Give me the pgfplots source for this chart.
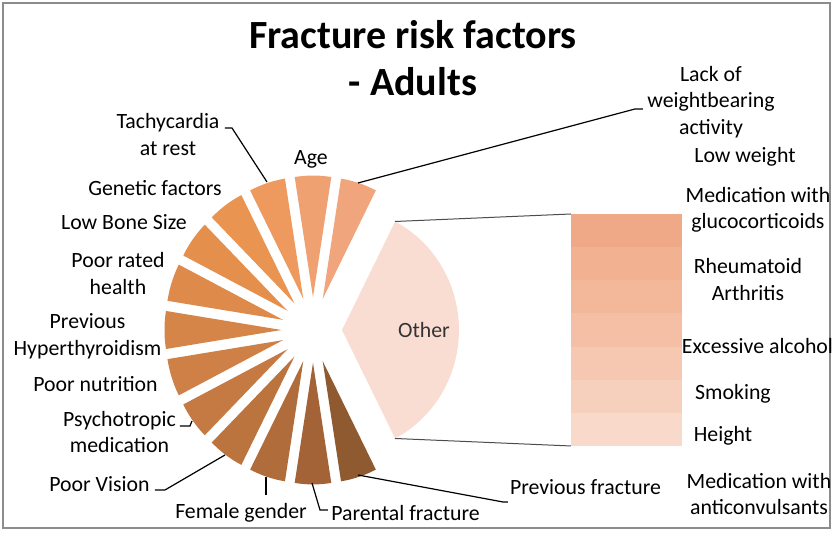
\documentclass[border=0pt]{standalone}
\usepackage{fontspec}
\setmainfont{Carlito}
\usepackage{pgfplots}
\pgfplotsset{compat=1.18}
% slice colours (from "Lack of weightbearing activity" round to "Previous fracture")
\definecolor{s1}{HTML}{F0A57C}
\definecolor{s2}{HTML}{EFA172}
\definecolor{s3}{HTML}{EE9A5E}
\definecolor{s4}{HTML}{EA9451}
\definecolor{s5}{HTML}{E48F4C}
\definecolor{s6}{HTML}{DD8A4A}
\definecolor{s7}{HTML}{D58548}
\definecolor{s8}{HTML}{CE8046}
\definecolor{s9}{HTML}{C67A43}
\definecolor{s10}{HTML}{BC743F}
\definecolor{s11}{HTML}{B06C3B}
\definecolor{s12}{HTML}{A36337}
\definecolor{s13}{HTML}{8F5A30}
\definecolor{otherc}{HTML}{FADDD2}
% bar colours, top to bottom
\definecolor{b1}{HTML}{F0A986}
\definecolor{b2}{HTML}{F2B292}
\definecolor{b3}{HTML}{F3B899}
\definecolor{b4}{HTML}{F4BFA5}
\definecolor{b5}{HTML}{F6C7B1}
\definecolor{b6}{HTML}{F7D0BD}
\definecolor{b7}{HTML}{F9D9CA}
\newcommand{\lab}{\fontsize{21.8}{26.5}\selectfont}
% #1 start angle, #2 end angle, #3 colour, #4 explosion, #5 radius
\newcommand{\pieslice}[5]{%
  \addplot[draw=none, fill=#3, domain=0:41, samples=42, variable=\t]
   ({313 + (#4)*cos(((#1)+(#2))/2) + (#5)*(\t>0.5)*(\t<40.5)*cos((#1)+(\t-1)*((#2)-(#1))/39)},
    {203 + 1.04*((#4)*sin(((#1)+(#2))/2) + (#5)*(\t>0.5)*(\t<40.5)*sin((#1)+(\t-1)*((#2)-(#1))/39))});
}
\begin{document}
\begin{tikzpicture}
\begin{axis}[at={(0,0)}, anchor=south west, scale only axis,
  width=833pt, height=533pt, xmin=0, xmax=833, ymin=0, ymax=533,
  hide axis, clip=false]
\path (axis cs:0,0) rectangle (axis cs:833,533);
\draw[color=black!45, line width=1.3pt] (axis cs:3,5) rectangle (axis cs:830,530);
% pie values: 13 single slices of 1 each, "Other" = 7, total 20
\def\total{20}
\def\otherval{7}
\pgfmathsetmacro\startang{\otherval*360/\total/2}
\foreach \c/\v in {s1/1,s2/1,s3/1,s4/1,s5/1,s6/1,s7/1,s8/1,s9/1,s10/1,s11/1,s12/1,s13/1}{
  \pgfmathsetmacro\endang{\startang+\v*360/\total}
  \edef\tmp{\noexpand\pieslice{\startang}{\endang}{\c}{31.5}{117}}
  \tmp
  \global\let\startang\endang
}
\pgfmathsetmacro\oa{\otherval*360/\total/2}
\edef\tmp{\noexpand\pieslice{-\oa}{\oa}{otherc}{29}{117}}
\tmp
% connector lines to the bar
\addplot[black!70, line width=1pt] coordinates {(395,311.5) (571,319)};
\addplot[black!70, line width=1pt] coordinates {(395,94.5) (571,87)};
% leader lines
\addplot[black, line width=1.2pt] coordinates {(358,350) (635,424) (643,424)};
\addplot[black, line width=1.2pt] coordinates {(225,405) (232,405) (267,351)};
\addplot[black, line width=1.2pt] coordinates {(180,107) (190,107) (192,112)};
\addplot[black, line width=1.2pt] coordinates {(155,43) (165,43) (225,78)};
\addplot[black, line width=1.2pt] coordinates {(266,56) (266,38)};
\addplot[black, line width=1.2pt] coordinates {(312,50) (320,23) (328,23)};
\addplot[black, line width=1.2pt] coordinates {(358,58) (503,31) (508,31)};
% title
\node[font=\fontsize{40}{47}\selectfont\bfseries, align=center, inner sep=0pt] at (axis cs:413,474.5) {Fracture risk factors\\- Adults};
% labels
\begin{scope}[every node/.style={font=\lab, align=center, inner sep=0pt}]
\node at (axis cs:711,431) {Lack of\\weightbearing\\activity};
\node at (axis cs:745,376) {Low weight};
\node at (axis cs:311,374) {Age};
\node at (axis cs:168,398.5) {Tachycardia\\at rest};
\node at (axis cs:155,345) {Genetic factors};
\node at (axis cs:124,311) {Low Bone Size};
\node at (axis cs:118,259.5) {Poor rated\\health};
\node at (axis cs:87.5,196.5) {Previous\\Hyperthyroidism};
\node at (axis cs:95.5,149) {Poor nutrition};
\node at (axis cs:119.5,101) {Psychotropic\\medication};
\node at (axis cs:99.5,49) {Poor Vision};
\node at (axis cs:241,20) {Female gender};
\node at (axis cs:405.5,20) {Parental fracture};
\node at (axis cs:585.5,46) {Previous fracture};
\node[text=black!80] at (axis cs:424,203) {Other};
\node at (axis cs:758,323) {Medication with\\glucocorticoids};
\node at (axis cs:748,253.5) {Rheumatoid\\Arthritis};
\node at (axis cs:757.5,187) {Excessive alcohol};
\node at (axis cs:733,139) {Smoking};
\node at (axis cs:723,97) {Height};
\node at (axis cs:759,39) {Medication with\\anticonvulsants};
\end{scope}
\end{axis}
% second plot: stacked bar breaking down "Other" (7 factors of 1 each)
\begin{axis}[at={(571pt,87pt)}, anchor=south west, scale only axis,
  width=111pt, height=232pt, xmin=0, xmax=1, ymin=0, ymax=7,
  hide axis, ybar stacked, bar width=1, clip=false]
\addplot[fill=b7, draw=none] coordinates {(0.5,1)};
\addplot[fill=b6, draw=none] coordinates {(0.5,1)};
\addplot[fill=b5, draw=none] coordinates {(0.5,1)};
\addplot[fill=b4, draw=none] coordinates {(0.5,1)};
\addplot[fill=b3, draw=none] coordinates {(0.5,1)};
\addplot[fill=b2, draw=none] coordinates {(0.5,1)};
\addplot[fill=b1, draw=none] coordinates {(0.5,1)};
\end{axis}
\end{tikzpicture}
\end{document}
